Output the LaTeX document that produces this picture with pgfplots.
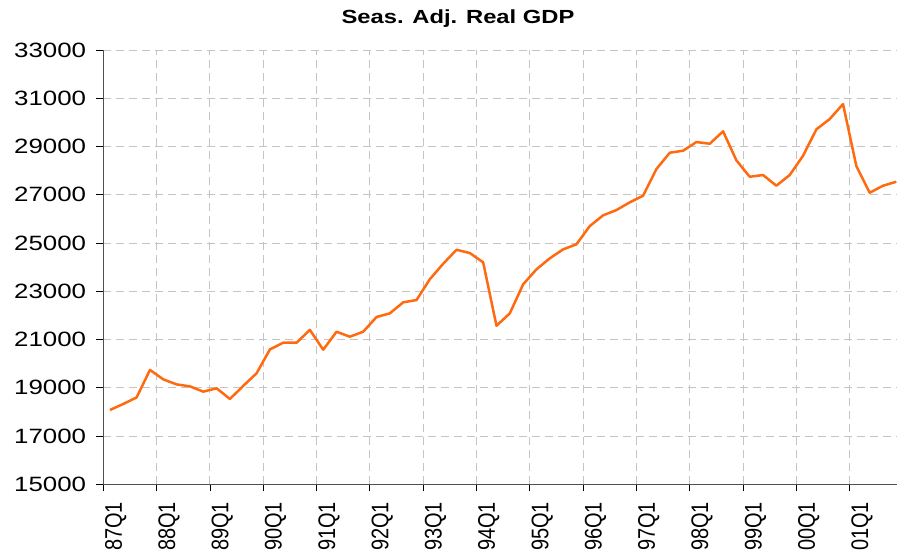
\documentclass[border=0pt]{standalone}
\usepackage{fontspec}
\setmainfont{Liberation Sans}
\newfontfamily\tickfont[FakeStretch=1.25]{Liberation Sans}
\usepackage{pgfplots}
\pgfplotsset{compat=1.18}
\usetikzlibrary{calc}
\definecolor{gdporange}{HTML}{FF6A10}
\definecolor{gridgray}{HTML}{C4C4C4}
\definecolor{axisgray}{HTML}{505050}
\newcommand\ql[1]{\scalebox{1}[1.2]{#1}}

\begin{document}
\begin{tikzpicture}
\begin{axis}[
  name=ax,
  scale only axis,
  width=793.7pt,
  height=434.3pt,
  xmin=0, xmax=59.55,
  ymin=15000, ymax=33000,
  axis x line*=bottom,
  axis y line*=left,
  axis line style={axisgray, line width=1.2pt},
  xtick={0,4,...,56},
  xticklabels={\ql{87Q1},\ql{88Q1},\ql{89Q1},\ql{90Q1},\ql{91Q1},\ql{92Q1},\ql{93Q1},\ql{94Q1},\ql{95Q1},\ql{96Q1},\ql{97Q1},\ql{98Q1},\ql{99Q1},\ql{00Q1},\ql{01Q1}},
  ytick={15000,17000,...,33000},
  scaled y ticks=false,
  /pgf/number format/1000 sep={},
  /pgf/number format/assume math mode=true,
  tick align=outside,
  major tick length=7pt,
  tick style={black, line width=0.8pt},
  x tick label style={rotate=90, anchor=north east, font=\fontsize{20}{22}\selectfont, inner sep=1.5pt, xshift=-9pt},
  y tick label style={font=\tickfont\fontsize{20.7}{23}\selectfont, inner sep=2pt, xshift=-8pt},
  grid=major,
  major grid style={gridgray, dash pattern=on 8pt off 5pt, line width=0.9pt},
  clip=false,
]
\addplot[gdporange, line width=2.5pt, line join=round] table {
x y
0.5 18080
1.5 18330
2.5 18600
3.5 19740
4.5 19350
5.5 19140
6.5 19060
7.5 18840
8.5 18980
9.5 18535
10.5 19080
11.5 19600
12.5 20590
13.5 20868
14.5 20868
15.5 21400
16.5 20578
17.5 21324
18.5 21117
19.5 21324
20.5 21933
21.5 22086
22.5 22542
23.5 22637
24.5 23500
25.5 24140
26.5 24720
27.5 24585
28.5 24200
29.5 21572
30.5 22086
31.5 23288
32.5 23910
33.5 24366
34.5 24738
35.5 24946
36.5 25704
37.5 26147
38.5 26367
39.5 26686
40.5 26960
41.5 28066
42.5 28742
43.5 28825
44.5 29185
45.5 29115
46.5 29629
47.5 28427
48.5 27747
49.5 27817
50.5 27374
51.5 27817
52.5 28617
53.5 29711
54.5 30138
55.5 30760
56.5 28190
57.5 27084
58.5 27374
59.5 27540
};
\end{axis}
\node[font=\tickfont\bfseries\fontsize{19}{21}\selectfont] at ($(ax.north west)+(354.7pt,31pt)$) {Seas. Adj. Real GDP};
\pgfresetboundingbox
\path[use as bounding box] ($(ax.south west)+(-103.3pt,-72.7pt)$) rectangle ($(ax.north east)+(0pt,50pt)$);
\end{tikzpicture}
\end{document}
